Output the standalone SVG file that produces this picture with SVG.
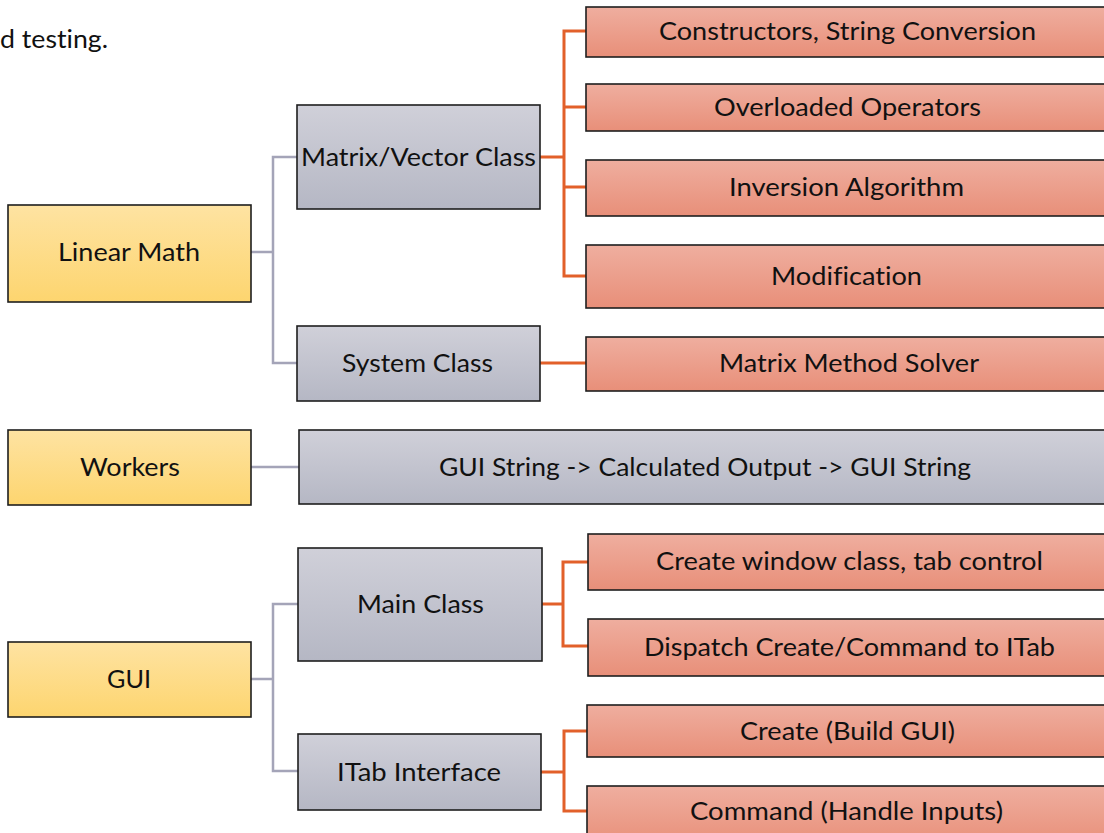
<svg xmlns="http://www.w3.org/2000/svg" width="1104" height="833" viewBox="0 0 1104 833">
<defs>
<linearGradient id="gy" x1="0" y1="0" x2="0" y2="1"><stop offset="0" stop-color="#fee3a2"/><stop offset="1" stop-color="#fdd56f"/></linearGradient>
<linearGradient id="gg" x1="0" y1="0" x2="0" y2="1"><stop offset="0" stop-color="#d0d0d9"/><stop offset="1" stop-color="#b5b7c4"/></linearGradient>
<linearGradient id="gr" x1="0" y1="0" x2="0" y2="1"><stop offset="0" stop-color="#efae9f"/><stop offset="1" stop-color="#e88f79"/></linearGradient>
</defs>
<style>
.y,.g,.r{stroke:#1e1e1e;stroke-width:1.6}
.y{fill:url(#gy)}
.g{fill:url(#gg)}
.r{fill:url(#gr)}
text{font-family:Lato,"Open Sans","Liberation Sans",sans-serif;font-size:25px;fill:#111;text-anchor:middle;font-variant-ligatures:none}
.cg{fill:none;stroke:#a4a4b8;stroke-width:2.5}
.co{fill:none;stroke:#e2602a;stroke-width:3}
</style>
<rect width="1104" height="833" fill="#fff"/>
<text x="0" y="48" style="text-anchor:start" textLength="108" lengthAdjust="spacingAndGlyphs">d testing.</text>
<g id="connectors">
<path class="cg" d="M251 252H273M297 157H273V363H297"/>
<path class="cg" d="M251 467H299"/>
<path class="cg" d="M251 679H273M298 604H273V771H298"/>
<path class="co" d="M540 157H564M587 31H564V276H587M564 107H587M564 187H587"/>
<path class="co" d="M540 363H587"/>
<path class="co" d="M542 604H563M588 562H563V646H588"/>
<path class="co" d="M541 772H564M587 731H564V811H587"/>
</g>
<g id="linear-math"><rect class="y" x="8" y="205" width="243" height="97"/><text x="129" y="261" textLength="142" lengthAdjust="spacingAndGlyphs">Linear Math</text></g>
<g id="matrix-vector"><rect class="g" x="297" y="105" width="243" height="104"/><text x="418.5" y="166" textLength="235" lengthAdjust="spacingAndGlyphs">Matrix/Vector Class</text></g>
<g id="system-class"><rect class="g" x="297" y="326" width="243" height="75"/><text x="417.5" y="372" textLength="151" lengthAdjust="spacingAndGlyphs">System Class</text></g>
<g id="constructors"><rect class="r" x="586" y="7" width="530" height="50"/><text x="847.5" y="40" textLength="377" lengthAdjust="spacingAndGlyphs">Constructors, String Conversion</text></g>
<g id="overloaded"><rect class="r" x="586" y="84" width="530" height="47"/><text x="847.5" y="116" textLength="267" lengthAdjust="spacingAndGlyphs">Overloaded Operators</text></g>
<g id="inversion"><rect class="r" x="586" y="160" width="530" height="56"/><text x="846.5" y="196" textLength="235" lengthAdjust="spacingAndGlyphs">Inversion Algorithm</text></g>
<g id="modification"><rect class="r" x="586" y="245" width="530" height="63"/><text x="846.5" y="285" textLength="151" lengthAdjust="spacingAndGlyphs">Modification</text></g>
<g id="solver"><rect class="r" x="586" y="337" width="530" height="54"/><text x="849" y="372" textLength="260" lengthAdjust="spacingAndGlyphs">Matrix Method Solver</text></g>
<g id="workers"><rect class="y" x="8" y="430" width="243" height="75"/><text x="130" y="476" textLength="100" lengthAdjust="spacingAndGlyphs">Workers</text></g>
<g id="gui-string"><rect class="g" x="299" y="430" width="820" height="74"/><text x="705" y="476" textLength="532" lengthAdjust="spacingAndGlyphs">GUI String -&gt; Calculated Output -&gt; GUI String</text></g>
<g id="gui"><rect class="y" x="8" y="642" width="243" height="75"/><text x="129" y="688" textLength="44" lengthAdjust="spacingAndGlyphs">GUI</text></g>
<g id="main-class"><rect class="g" x="298" y="548" width="244" height="113"/><text x="420.5" y="613" textLength="127" lengthAdjust="spacingAndGlyphs">Main Class</text></g>
<g id="itab"><rect class="g" x="298" y="734" width="243" height="76"/><text x="419" y="781" textLength="164" lengthAdjust="spacingAndGlyphs">ITab Interface</text></g>
<g id="create-window"><rect class="r" x="588" y="534" width="530" height="56"/><text x="849.5" y="570" textLength="387" lengthAdjust="spacingAndGlyphs">Create window class, tab control</text></g>
<g id="dispatch"><rect class="r" x="588" y="619" width="530" height="57"/><text x="849.5" y="656" textLength="411" lengthAdjust="spacingAndGlyphs">Dispatch Create/Command to ITab</text></g>
<g id="create-build"><rect class="r" x="587" y="705" width="530" height="52"/><text x="847.5" y="740" textLength="215" lengthAdjust="spacingAndGlyphs">Create (Build GUI)</text></g>
<g id="command"><rect class="r" x="587" y="786" width="530" height="60"/><text x="846.5" y="820" textLength="313" lengthAdjust="spacingAndGlyphs">Command (Handle Inputs)</text></g>
</svg>
